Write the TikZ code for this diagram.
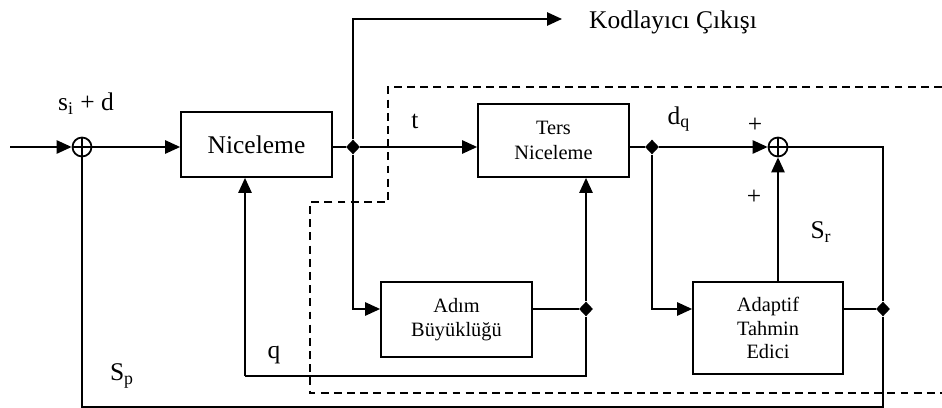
\documentclass[tikz,border=0pt]{standalone}
\usepackage{fontspec}
\setmainfont{Liberation Serif}
\usetikzlibrary{arrows.meta,shapes.geometric}

\tikzset{
  blok/.style={draw, line width=1pt, align=center, inner sep=0pt},
  buyuk/.style={font=\fontsize{14.5}{17}\selectfont},
  kucuk/.style={font=\fontsize{11.6}{13.4}\selectfont},
  toplam/.style={circle, draw, line width=1pt, minimum size=0.38cm, inner sep=0pt,
    path picture={\draw[line width=0.9pt] (path picture bounding box.north) -- (path picture bounding box.south)
      (path picture bounding box.west) -- (path picture bounding box.east);}},
  dugum/.style={diamond, fill, inner sep=0pt, minimum width=8pt, minimum height=8.5pt},
  hat/.style={line width=1.1pt}
}

\begin{document}
\begin{tikzpicture}[x=0.02cm, y=-0.02cm, >={Triangle[length=8.5pt,width=7.5pt]}, buyuk]
\useasboundingbox (0,0) rectangle (942,408);

% bloklar
\node[blok, minimum width=3.02cm, minimum height=1.3cm] (nic) at (256.5,144.5) {Niceleme};
\node[blok, kucuk, minimum width=3.02cm, minimum height=1.46cm] (ters) at (553.5,140.5) {Ters\\[1pt]Niceleme};
\node[blok, kucuk, minimum width=3.02cm, minimum height=1.5cm] (adim) at (456.5,319.5) {Adım\\Büyüklüğü};
\node[blok, kucuk, minimum width=3.0cm, minimum height=1.84cm] (adap) at (768,328) {Adaptif\\Tahmin\\Edici};

% toplayicilar ve dugumler
\node[toplam] (top1) at (82,147) {};
\node[toplam] (top2) at (778,147) {};
\node[dugum] (d1) at (353,147) {};
\node[dugum] (d2) at (652,147) {};
\node[dugum] (d3) at (586,309) {};
\node[dugum] (d4) at (883,309) {};

\coordinate (giris) at (10,147);
\coordinate (cikis) at (562,19);
\coordinate (qkose) at (245,376);
\coordinate (altkose) at (883,407);

% baglantilar
\draw[hat, ->] (giris) -- (top1);
\draw[hat, ->] (top1) -- (top1 -| nic.west);
\draw[hat] (nic.east |- d1) -- (d1);
\draw[hat, ->] (d1) -- (d1 -| ters.west);
\draw[hat, ->] (d1) |- (cikis);
\draw[hat, ->] (d1) |- (d3 -| adim.west);
\draw[hat] (adim.east |- d3) -- (d3);
\draw[hat, ->] (d3) -- (d3 |- ters.south);
\draw[hat] (d3) |- (qkose);
\draw[hat, ->] (qkose) -- (qkose |- nic.south);
\draw[hat] (ters.east |- d2) -- (d2);
\draw[hat, ->] (d2) -- (top2);
\draw[hat, ->] (d2) |- (d4 -| adap.west);
\draw[hat] (adap.east |- d4) -- (d4);
\draw[hat, ->] (top2 |- adap.north) -- (top2);
\draw[hat] (top2) -| (d4);
\draw[hat] (d4) -- (altkose) -| (top1);

% kesikli sinir
\draw[line width=0.8pt, dash pattern=on 4.5pt off 3pt] (942,87) -- (388,87) -- (388,202) -- (310,202) -- (310,393) -- (942,393);

% etiketler
\node[anchor=west] (kod) at (583,22) {Kodlayıcı Çıkışı};
\node (lsd) at (86,104) {s\textsubscript{i} + d};
\node (lt) at (415,121) {t};
\node (ldq) at (679,119) {d\textsubscript{q}};
\node (lp1) at (755,125) {+};
\node (lp2) at (754,197) {+};
\node (lsr) at (821,232) {S\textsubscript{r}};
\node (lq) at (274,355) {q};
\node (lsp) at (122,376) {S\textsubscript{p}};
\end{tikzpicture}
\end{document}
